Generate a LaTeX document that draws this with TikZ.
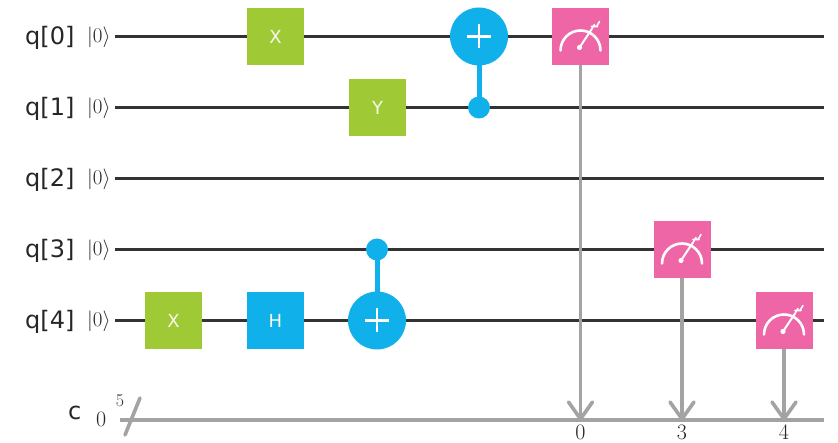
\documentclass[tikz,border=0pt]{standalone}
\usepackage{fontspec}
\setmainfont{DejaVu Sans}
\newfontfamily\serifnum{Latin Modern Roman}
\definecolor{wirec}{HTML}{333333}
\definecolor{classc}{HTML}{A3A3A3}
\definecolor{gatg}{HTML}{A0C936}
\definecolor{gatb}{HTML}{10B0EA}
\definecolor{gatp}{HTML}{EF66A6}
\tikzset{
  wire/.style={draw=wirec,line width=3.6pt},
  classical/.style={draw=classc,line width=3.6pt},
  ctrlline/.style={draw=gatb,line width=5pt},
  qlabel/.style={anchor=base west,inner sep=0pt,font=\fontsize{24}{28}\selectfont,text=black!85},
  ket/.style={anchor=west,inner sep=0pt,font=\serifnum\fontsize{21}{24}\selectfont,text=black!85},
  gatebox/.style={minimum size=57pt,inner sep=0pt,text=white!90!gatg,font=\fontsize{18}{20}\selectfont},
  greengate/.style={gatebox,fill=gatg},
  bluegate/.style={gatebox,fill=gatb},
  pinkgate/.style={minimum size=57pt,inner sep=0pt,fill=gatp},
  target/.style={circle,fill=gatb,minimum size=58pt,inner sep=0pt},
  ctrldot/.style={circle,fill=gatb,minimum size=22pt,inner sep=0pt},
  bitlabel/.style={inner sep=0pt,font=\serifnum\fontsize{22}{26}\selectfont,text=black!85},
  gauge/.pic={
    \draw[white,line width=2.6pt,line cap=round] (-20,14) arc[start angle=180,end angle=360,radius=20];
    \draw[white,line width=2pt,line cap=round] (-1,11) -- (11,-7);
    \fill[white] (-1,11) circle (2.6);
    \draw[white,line width=1.6pt,line cap=round] (11,-7) -- (14,-12) (11,-10) -- (17,-10) (16,-10) -- (19,-15);
  }
}
\begin{document}
\begin{tikzpicture}[x=1pt,y=-1pt]
\useasboundingbox (0,0) rectangle (838,443);
\fill[white] (0,0) rectangle (838,443);
\foreach \n/\y in {0/36.5,1/107.5,2/178.5,3/249.5,4/320.5}{
  \node[qlabel] (q\n) at (25,\y+8.5) {q[\n]};
  \node[ket] (k\n) at (87,\y+1) {$|$0$\rangle$};
  \coordinate (ws\n) at (115,\y);
  \coordinate (we\n) at (824,\y);
  \draw[wire] (ws\n) -- (we\n);
}
\node[qlabel] (cl) at (68,420) {c};
\node[bitlabel,anchor=west] (c0) at (96,419) {0};
\node[inner sep=0pt,font=\serifnum\fontsize{18}{20}\selectfont,text=black!80] (c5) at (120,401) {5};
\coordinate (cs) at (120,420);
\coordinate (ce) at (824,420);
\coordinate (sa) at (125,435);
\coordinate (sb) at (140,398);
\draw[classical] (cs) -- (ce);
\draw[classical,line cap=round] (sa) -- (sb);
\node[pinkgate] (m0) at (580.5,36.5) {};
\node[pinkgate] (m3) at (682,249.5) {};
\node[pinkgate] (m4) at (784,320.5) {};
\foreach \m/\x/\l in {m0/580.5/0,m3/682/3,m4/784/4}{
  \coordinate (t\m) at (\x,419);
  \draw[classical] (\m) -- (t\m);
  \draw[classical,line cap=round,line join=miter] ([xshift=-12,yshift=17]t\m) -- (t\m) -- ([xshift=12,yshift=17]t\m);
  \node[bitlabel] (b\l) at (\x,432.5) {\l};
  \node[pinkgate] at (\m) {};
  \path (\m) pic {gauge};
}
\node[greengate] (x0) at (275.5,36.5) {X};
\node[greengate] (y1) at (377.5,107.5) {Y};
\node[greengate] (x4) at (173.5,320.5) {X};
\node[bluegate] (h4) at (275.5,320.5) {H};
\node[target] (t0) at (479,36.5) {};
\node[ctrldot] (d1) at (479,107.5) {};
\draw[ctrlline] (t0.center) -- (d1.center);
\node[target] (t4) at (377,320.5) {};
\node[ctrldot] (d3) at (377,249.5) {};
\draw[ctrlline] (t4.center) -- (d3.center);
\foreach \t in {t0,t4}{
  \draw[white,line width=2.6pt] ([xshift=-12]\t.center) -- ([xshift=12]\t.center) ([yshift=-12]\t.center) -- ([yshift=12]\t.center);
}
\end{tikzpicture}
\end{document}
